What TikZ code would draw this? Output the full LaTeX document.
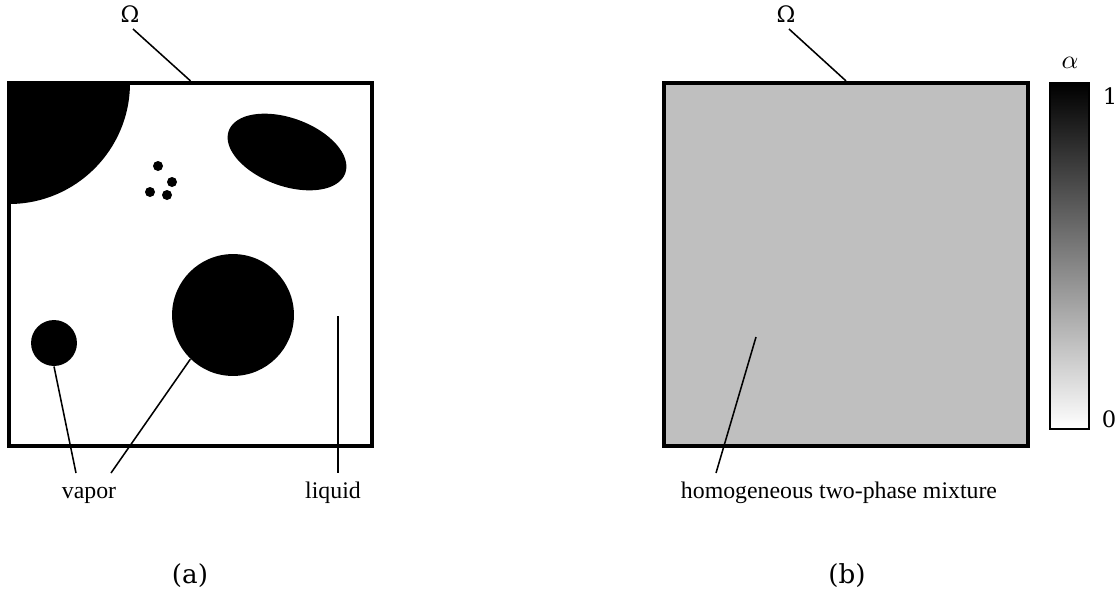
\documentclass[tikz,border=0pt]{standalone}
\usepackage{fontspec}
\setmainfont{Liberation Serif}
\newfontfamily\capfont{DejaVu Serif}
\usetikzlibrary{positioning}
\tikzset{
  domainbox/.style={rectangle, draw=black, line width=1.7pt, inner sep=0pt,
    minimum width=152.5pt, minimum height=152.5pt},
  bubble/.style={circle, fill=black, inner sep=0pt},
  leader/.style={line width=0.65pt},
  lbl/.style={font=\fontsize{10}{12}\selectfont, inner sep=1pt},
  sublbl/.style={font=\capfont\fontsize{11}{13}\selectfont, inner sep=1pt},
  tick/.style={font=\capfont\fontsize{9.5}{11}\selectfont, inner sep=1pt},
  cbar/.style={rectangle, draw=black, line width=0.5pt, inner sep=0pt,
    top color=black, bottom color=white, minimum width=16.4pt, minimum height=145.3pt},
}

\begin{document}
\begin{tikzpicture}[x=0.42pt,y=-0.42pt]
\useasboundingbox (0,0) rectangle (1120,599);

% (a) resolved interfaces
\begin{scope}
  \clip (9,83) rectangle (372,446);
  \fill (9,83) circle [radius=121];
\end{scope}
\fill[rotate around={-20:(287,152)}] (287,152) ellipse [x radius=62, y radius=34];
\node[bubble, minimum size=4.2pt] (d1) at (158,166) {};
\node[bubble, minimum size=4.2pt] (d2) at (172,182) {};
\node[bubble, minimum size=4.2pt] (d3) at (150,192) {};
\node[bubble, minimum size=4.2pt] (d4) at (167,195) {};
\node[bubble, minimum size=19.3pt] (small) at (54,343) {};
\node[bubble, minimum size=51.2pt] (big) at (233,315) {};
\node[domainbox] (boxA) at (190.5,264.5) {};

\node[tick] (omegaA) at (130,14) {Ω};
\node[lbl, anchor=base] (vapor) at (89,498) {vapor};
\node[lbl, anchor=base] (liquid) at (333,498) {liquid};
\coordinate (omA) at (133,29);
\coordinate (vapA) at (76,473);
\coordinate (vapB) at (111,473);
\coordinate (liqA) at (338,316);
\coordinate (liqB) at (338,473);

\draw[leader] (omA) -- (boxA.north);
\draw[leader] (small.south) -- (vapA);
\draw[leader] (big.226) -- (vapB);
\draw[leader] (liqA) -- (liqB);

\node[sublbl] (capA) at (190,576) {(a)};

% (b) mixture model
\node[domainbox, fill=black!25] (boxB) at (846,264.5) {};
\node[tick] (omegaB) at (786,14) {Ω};
\node[lbl, anchor=base] (mix) at (839,498) {homogeneous two-phase mixture};
\coordinate (omB) at (789,29);
\coordinate (mixA) at (756,337);
\coordinate (mixB) at (716,473);
\draw[leader] (omB) -- (boxB.north);
\draw[leader] (mixA) -- (mixB);

\node[cbar] (cbar) at (1069.5,256) {};
\node[lbl, font=\fontsize{11}{13}\selectfont] (alpha) at (1070,63) {$\alpha$};
\node[tick] (one) at (1110,96) {1};
\node[tick] (zero) at (1109,419) {0};

\node[sublbl] (capB) at (847,576) {(b)};
\end{tikzpicture}
\end{document}
